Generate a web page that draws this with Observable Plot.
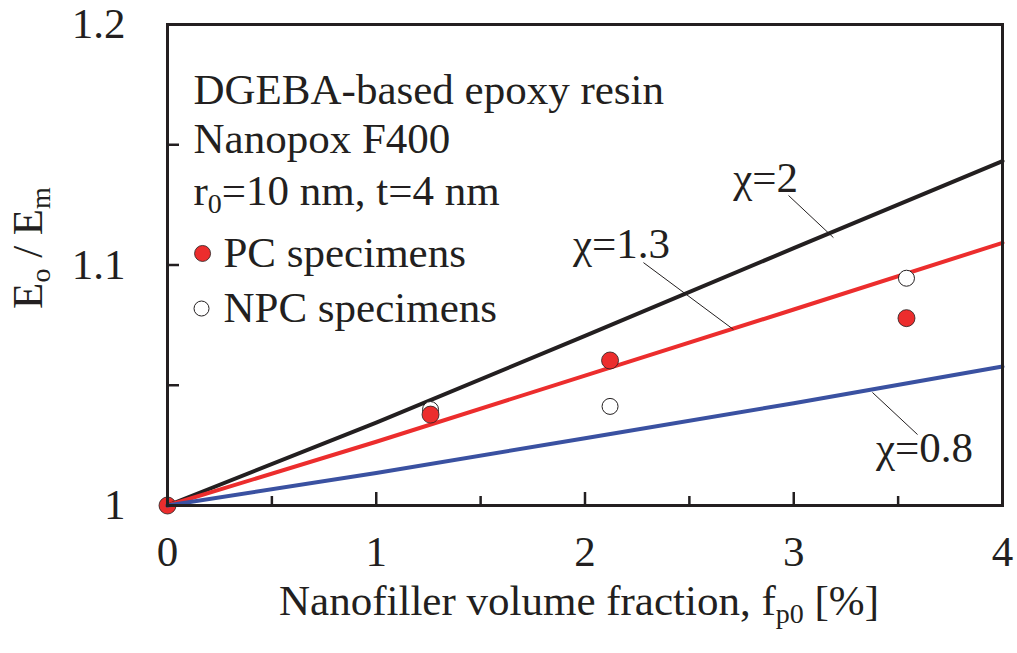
<!DOCTYPE html>
<html><head><meta charset="utf-8">
<script src="https://cdn.jsdelivr.net/npm/d3@7"></script>
<script src="https://cdn.jsdelivr.net/npm/@observablehq/plot@0.6"></script>
<style>body{margin:0;background:#fff;}</style>
</head><body><div id="chart"></div>
<script>
// ---- data ----
const fracX = [0, 1, 2, 3, 4];
const chi2Y = [1, 1.0345, 1.0705, 1.107, 1.1432];
const chi13Y = [1, 1.0265, 1.054, 1.0815, 1.1092];
const chi08Y = [1, 1.0135, 1.028, 1.0425, 1.0578];
const pcX = [0, 1.26, 2.12, 3.54];
const pcY = [1, 1.0378, 1.0603, 1.0779];
const npcX = [1.26, 2.12, 3.54];
const npcY = [1.0399, 1.0412, 1.0945];
const xTicksMajor = [0, 1, 2, 3, 4];
const xTicksMinor = [0.5, 1.5, 2.5, 3.5];
const yTicksLabeled = [1, 1.1, 1.2];
const yTicksAll = [1, 1.05, 1.1, 1.15, 1.2];
const seriesNames = ["χ=2", "χ=1.3", "χ=0.8"];
const seriesColors = ["#231f20", "#ec2d2d", "#3a51a1"];

// ---- tables ----
const curves = [];
[chi2Y, chi13Y, chi08Y].forEach((ys, s) => fracX.forEach((x, i) => curves.push({x, y: ys[i], s: seriesNames[s]})));
const pc = pcX.map((x, i) => ({x, y: pcY[i]}));
const npc = npcX.map((x, i) => ({x, y: npcY[i]}));

const W = 1017, H = 653, mL = 167, mR = 15, mT = 24, mB = 148;
const frameW = W - mL - mR, frameH = H - mT - mB;
const ink = "#231f20";
const FS = 43;

const plot = Plot.plot({
  width: W, height: H,
  marginLeft: mL, marginRight: mR, marginTop: mT, marginBottom: mB,
  style: {fontFamily: "'Liberation Serif','Times New Roman',serif", fontSize: FS + "px", background: "#fff", color: ink},
  x: {domain: [0, 4], axis: null},
  y: {domain: [1, 1.2], axis: null},
  color: {domain: seriesNames, range: seriesColors},
  marks: [
    // tick labels
    Plot.axisX({ticks: xTicksMajor, tickSize: 0, tickPadding: 30, fontSize: FS, label: null, tickFormat: d => String(d)}),
    Plot.axisY({ticks: yTicksLabeled, tickSize: 0, tickPadding: 42, fontSize: FS, label: null, tickFormat: d => String(d)}),
    // inward ticks
    Plot.tickX(xTicksMajor, {x: d => d, insetTop: frameH - 13, stroke: ink, strokeWidth: 2.5}),
    Plot.tickX(xTicksMinor, {x: d => d, insetTop: frameH - 9, stroke: ink, strokeWidth: 2.5}),
    Plot.tickY(yTicksAll, {y: d => d, insetRight: frameW - 12, stroke: ink, strokeWidth: 2.5}),
    // origin point below the curves
    Plot.dot(pc.filter(d => d.x === 0), {x: "x", y: "y", r: 8.5, fill: "#ec2d2d", stroke: ink, strokeWidth: 0.8}),
    // curves
    Plot.line(curves, {x: "x", y: "y", z: "s", stroke: "s", strokeWidth: 4}),
    // data points
    Plot.dot(npc, {x: "x", y: "y", r: 8, fill: "#fff", stroke: ink, strokeWidth: 1}),
    Plot.dot(pc.filter(d => d.x > 0), {x: "x", y: "y", r: 8.5, fill: "#ec2d2d", stroke: ink, strokeWidth: 0.8}),
    // curve annotations with leader lines
    Plot.link([
      {x1: 2.975, y1: 1.1289, x2: 3.19, y2: 1.1114},
      {x1: 2.28, y1: 1.101, x2: 2.711, y2: 1.0732},
      {x1: 3.377, y1: 1.047, x2: 3.593, y2: 1.0295}
    ], {x1: "x1", y1: "y1", x2: "x2", y2: "y2", stroke: ink, strokeWidth: 1}),
    Plot.text([
      {x: 2.865, y: 1.136, t: seriesNames[0]},
      {x: 2.175, y: 1.1085, t: seriesNames[1]},
      {x: 3.626, y: 1.0237, t: seriesNames[2]}
    ], {x: "x", y: "y", text: "t", fontSize: FS, fill: ink}),
    // info block
    Plot.text([
      {x: 0.1245, y: 1.1725, t: "DGEBA-based epoxy resin"},
      {x: 0.1245, y: 1.1522, t: "Nanopox F400"},
      {x: 0.1245, y: 1.1308, t: "r_{0}=10 nm, t=4 nm"},
      {x: 0.268, y: 1.1048, t: "PC specimens"},
      {x: 0.268, y: 1.0819, t: "NPC specimens"}
    ], {x: "x", y: "y", text: "t", textAnchor: "start", fontSize: FS, fill: ink}),
    Plot.dot([{x: 0.168, y: 1.1048}], {x: "x", y: "y", r: 8, fill: "#ec2d2d", stroke: ink, strokeWidth: 0.8}),
    Plot.dot([{x: 0.163, y: 1.0819}], {x: "x", y: "y", r: 7.5, fill: "#fff", stroke: ink, strokeWidth: 1}),
    // axis titles
    Plot.text(["Nanofiller volume fraction, f_{p0} [%]"], {frameAnchor: "bottom", dy: 109, dx: -6, fontSize: FS, fill: ink}),
    Plot.text(["E_{o} / E_{m}"], {frameAnchor: "left", textAnchor: "middle", rotate: -90, dx: -139, dy: -17, fontSize: FS, fill: ink}),
    Plot.frame({stroke: ink, strokeWidth: 3})
  ]
});

// subscripts
d3.select(plot).selectAll("text").each(function() {
  const txt = this.textContent;
  if (!txt.includes("_{")) return;
  const parts = txt.split(/_\{([^}]*)\}/);
  const el = d3.select(this);
  el.text(null);
  parts.forEach((p, i) => {
    if (!p) return;
    const t = el.append("tspan").text(p);
    if (i % 2 === 1) t.attr("font-size", Math.round(FS * 0.65)).attr("baseline-shift", -8);
  });
});

document.getElementById("chart").appendChild(plot);
</script>
</body></html>
